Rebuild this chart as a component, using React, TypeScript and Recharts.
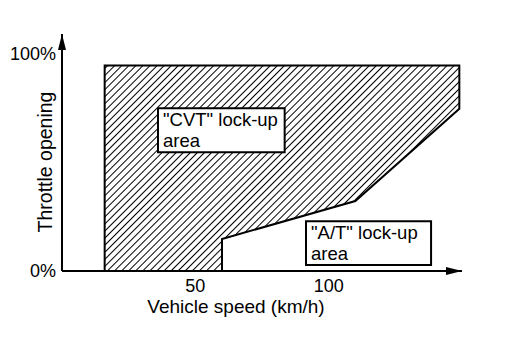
import React from 'react';
import { ComposedChart, Area, Line, XAxis, YAxis, ReferenceArea, ReferenceDot, Label } from 'recharts';

const FONT = '"Liberation Sans", Arial, Helvetica, sans-serif';

const speedTicks = [50, 100];
const throttleTicks = [0, 100];

// hatched "CVT" lock-up region: lower / upper throttle bound (%) against speed (km/h)
const regionSpeed = [16, 60, 60, 110, 149];
const regionLow = [0, 0, 14.7, 32.2, 74.6];
const regionHigh = [94.5, 94.5, 94.5, 94.5, 94.5];

// outline of the same region, walked round the edge
const outlineSpeed = [16, 16, 149, 149, 110, 60, 60];
const outlineThrottle = [0, 94.5, 94.5, 74.6, 32.2, 14.7, 0];

const cvtLines = ['"CVT" lock-up', 'area'];
const atLines = ['"A/T" lock-up', 'area'];

const regionData = regionSpeed.map((s, i) => ({ speed: s, band: [regionLow[i], regionHigh[i]] }));
const outlineData = outlineSpeed.map((s, i) => ({ speed: s, throttle: outlineThrottle[i] }));

const boxText = (lines: string[]) => (props: any) => {
  const { x, y } = props.viewBox;
  return (
    <text fontSize={18.5} fontFamily={FONT} fill="#000">
      <tspan x={x + 5} y={y + 18}>{lines[0]}</tspan>
      <tspan x={x + 5} y={y + 39}>{lines[1]}</tspan>
    </text>
  );
};

const arrowRight = (p: any) => (
  <polygon points={`${p.cx},${p.cy} ${p.cx - 16},${p.cy - 4} ${p.cx - 16},${p.cy + 4}`} fill="#000" />
);
const arrowUp = (p: any) => (
  <polygon points={`${p.cx},${p.cy} ${p.cx - 4},${p.cy + 16} ${p.cx + 4},${p.cy + 16}`} fill="#000" />
);

export default function App() {
  return (
    <div style={{ position: 'absolute', left: 0, top: 0, background: '#fff' }}>
      <svg width={0} height={0} style={{ position: 'absolute' }}>
        <defs>
          <pattern id="hatch" width={5} height={5} patternUnits="userSpaceOnUse" patternTransform="rotate(45)">
            <line x1={2.5} y1={0} x2={2.5} y2={5} stroke="#000" strokeWidth={1} />
          </pattern>
        </defs>
      </svg>
      <ComposedChart width={512} height={342} margin={{ top: 34, right: 50, left: 0, bottom: 0 }}>
        <XAxis
          type="number"
          dataKey="speed"
          domain={[0, 150]}
          ticks={speedTicks}
          allowDataOverflow
          height={71}
          tickLine={false}
          axisLine={{ stroke: '#000', strokeWidth: 2 }}
          tick={{ fill: '#000', fontSize: 18, fontFamily: FONT }}
        >
          <Label
            content={() => (
              <text x={236} y={313} textAnchor="middle" fontSize={19} fontFamily={FONT} fill="#000">
                Vehicle speed (km/h)
              </text>
            )}
          />
        </XAxis>
        <YAxis
          type="number"
          domain={[0, 109]}
          ticks={throttleTicks}
          allowDataOverflow
          width={62}
          tickLine={false}
          tickMargin={0}
          tickFormatter={(v: number) => `${v}%`}
          axisLine={{ stroke: '#000', strokeWidth: 2 }}
          tick={{ fill: '#000', fontSize: 18, fontFamily: FONT }}
        >
          <Label
            content={() => (
              <text
                x={45}
                y={162}
                transform="rotate(-90, 45, 162)"
                textAnchor="middle"
                dominantBaseline="central"
                fontSize={19.5}
                fontFamily={FONT}
                fill="#000"
              >
                Throttle opening
              </text>
            )}
          />
        </YAxis>
        <Area
          data={regionData}
          dataKey="band"
          type="linear"
          stroke="none"
          fill="url(#hatch)"
          fillOpacity={1}
          isAnimationActive={false}
        />
        <Line
          data={outlineData}
          dataKey="throttle"
          type="linear"
          stroke="#000"
          strokeWidth={2}
          dot={false}
          isAnimationActive={false}
        />
        <ReferenceArea x1={36} x2={83.5} y1={54.6} y2={74.8} fill="#fff" fillOpacity={1} stroke="#000" strokeWidth={2}>
          <Label content={boxText(cvtLines)} />
        </ReferenceArea>
        <ReferenceArea x1={91.5} x2={138.4} y1={2.8} y2={22.9} fill="#fff" fillOpacity={1} stroke="#000" strokeWidth={2}>
          <Label content={boxText(atLines)} />
        </ReferenceArea>
        <ReferenceDot x={150} y={0} r={0} ifOverflow="visible" shape={arrowRight} />
        <ReferenceDot x={0} y={109} r={0} ifOverflow="visible" shape={arrowUp} />
      </ComposedChart>
    </div>
  );
}
